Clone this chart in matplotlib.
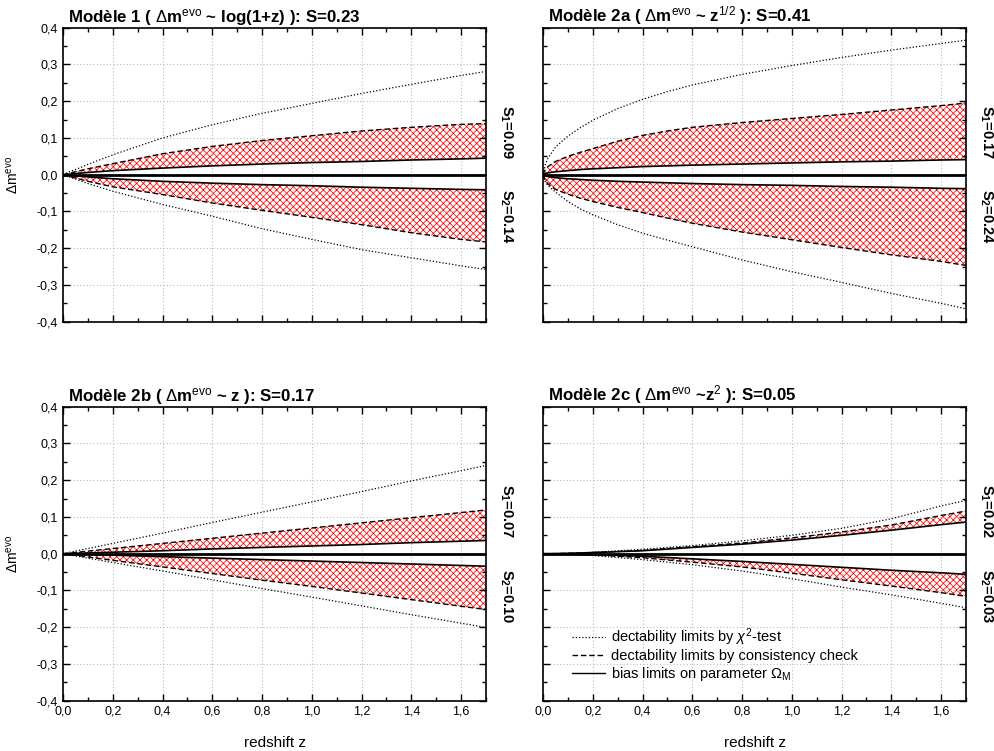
import matplotlib
matplotlib.use('Agg')
import matplotlib.pyplot as plt
import matplotlib.transforms as mtransforms
from matplotlib.ticker import MultipleLocator, FuncFormatter

plt.rcParams['font.family'] = 'Liberation Sans'
plt.rcParams['mathtext.fontset'] = 'custom'
plt.rcParams['mathtext.rm'] = 'Liberation Sans'
plt.rcParams['mathtext.it'] = 'Liberation Sans:italic'
plt.rcParams['mathtext.bf'] = 'Liberation Sans:bold'
plt.rcParams['hatch.linewidth'] = 0.55

# redshift grid where curves were read
z = [0, 0.02, 0.05, 0.1, 0.2, 0.4, 0.6, 0.8, 1.0, 1.2, 1.4, 1.6, 1.7]
# finer grid for the steep sqrt model
z_2a = [0, 0.01, 0.02, 0.05, 0.1, 0.15, 0.2, 0.3, 0.4, 0.5, 0.6, 0.8, 1.0, 1.2, 1.4, 1.6, 1.7]

# Modele 1 : log(1+z)
m1_dot_up = [0, 0.006, 0.014, 0.028, 0.054, 0.100, 0.136, 0.167, 0.194, 0.221, 0.246, 0.270, 0.281]
m1_dash_up = [0, 0.003, 0.008, 0.016, 0.030, 0.057, 0.077, 0.093, 0.106, 0.119, 0.129, 0.137, 0.139]
m1_sol_up = [0, 0.001, 0.003, 0.006, 0.011, 0.018, 0.024, 0.029, 0.033, 0.036, 0.040, 0.043, 0.045]
m1_sol_lo = [0, -0.001, -0.003, -0.006, -0.011, -0.018, -0.023, -0.027, -0.030, -0.034, -0.037, -0.040, -0.041]
m1_dash_lo = [0, -0.004, -0.009, -0.018, -0.033, -0.054, -0.077, -0.097, -0.116, -0.136, -0.158, -0.176, -0.183]
m1_dot_lo = [0, -0.005, -0.012, -0.024, -0.045, -0.081, -0.113, -0.147, -0.176, -0.204, -0.226, -0.248, -0.258]

# Modele 2a : z^1/2
m2a_dot_up = [0, 0.030, 0.045, 0.075, 0.105, 0.128, 0.148, 0.180, 0.205, 0.226, 0.244, 0.273, 0.297, 0.319, 0.339, 0.357, 0.366]
m2a_dash_up = [0, 0.015, 0.022, 0.036, 0.050, 0.061, 0.071, 0.091, 0.107, 0.119, 0.129, 0.142, 0.153, 0.164, 0.176, 0.188, 0.195]
m2a_sol_up = [0, 0.003, 0.005, 0.008, 0.011, 0.014, 0.016, 0.019, 0.022, 0.024, 0.026, 0.029, 0.032, 0.035, 0.037, 0.040, 0.041]
m2a_sol_lo = [0, -0.003, -0.005, -0.008, -0.011, -0.013, -0.015, -0.018, -0.020, -0.022, -0.024, -0.027, -0.029, -0.032, -0.034, -0.037, -0.038]
m2a_dash_lo = [0, -0.017, -0.025, -0.040, -0.053, -0.064, -0.073, -0.089, -0.103, -0.118, -0.132, -0.156, -0.177, -0.198, -0.218, -0.236, -0.247]
m2a_dot_lo = [0, -0.020, -0.030, -0.047, -0.073, -0.093, -0.109, -0.136, -0.159, -0.178, -0.196, -0.232, -0.264, -0.293, -0.323, -0.350, -0.365]

# Modele 2b : z
m2b_dot_up = [0, 0.003, 0.007, 0.014, 0.028, 0.056, 0.085, 0.113, 0.141, 0.169, 0.198, 0.226, 0.240]
m2b_dash_up = [0, 0.001, 0.0035, 0.007, 0.014, 0.028, 0.042, 0.056, 0.070, 0.084, 0.098, 0.112, 0.119]
m2b_sol_up = [0, 0.0004, 0.001, 0.002, 0.004, 0.008, 0.013, 0.017, 0.021, 0.025, 0.030, 0.034, 0.036]
m2b_sol_lo = [0, -0.0004, -0.001, -0.002, -0.004, -0.008, -0.012, -0.016, -0.020, -0.024, -0.028, -0.032, -0.034]
m2b_dash_lo = [0, -0.002, -0.004, -0.009, -0.018, -0.036, -0.054, -0.072, -0.089, -0.107, -0.125, -0.143, -0.152]
m2b_dot_lo = [0, -0.002, -0.006, -0.012, -0.024, -0.047, -0.071, -0.095, -0.118, -0.142, -0.166, -0.189, -0.201]

# Modele 2c : z^2
m2c_dot_up = [0, 0, 0.0005, 0.001, 0.004, 0.012, 0.022, 0.035, 0.050, 0.069, 0.095, 0.130, 0.145]
m2c_dash_up = [0, 0, 0.0003, 0.001, 0.003, 0.009, 0.019, 0.029, 0.043, 0.059, 0.078, 0.104, 0.116]
m2c_sol_up = [0, 0, 0.0003, 0.001, 0.003, 0.008, 0.017, 0.026, 0.037, 0.050, 0.064, 0.079, 0.086]
m2c_sol_lo = [0, 0, -0.0003, -0.001, -0.002, -0.007, -0.014, -0.021, -0.029, -0.037, -0.045, -0.052, -0.056]
m2c_dash_lo = [0, 0, -0.0004, -0.001, -0.003, -0.011, -0.023, -0.036, -0.053, -0.071, -0.088, -0.106, -0.116]
m2c_dot_lo = [0, 0, -0.0005, -0.002, -0.005, -0.016, -0.030, -0.047, -0.068, -0.091, -0.112, -0.135, -0.147]

titles = [r'Modèle 1 ( $\Delta$m$^{\mathrm{evo}}$ ~ log(1+z) ): S=0.23',
          r'Modèle 2a ( $\Delta$m$^{\mathrm{evo}}$ ~ z$^{\mathrm{1/2}}$ ): S=0.41',
          r'Modèle 2b ( $\Delta$m$^{\mathrm{evo}}$ ~ z ): S=0.17',
          r'Modèle 2c ( $\Delta$m$^{\mathrm{evo}}$ ~z$^{\mathrm{2}}$ ): S=0.05']
s1_labels = ['0.09', '0.17', '0.07', '0.02']
s2_labels = ['0.14', '0.24', '0.10', '0.03']

panels = [
    (z, m1_dot_up, m1_dash_up, m1_sol_up, m1_sol_lo, m1_dash_lo, m1_dot_lo),
    (z_2a, m2a_dot_up, m2a_dash_up, m2a_sol_up, m2a_sol_lo, m2a_dash_lo, m2a_dot_lo),
    (z, m2b_dot_up, m2b_dash_up, m2b_sol_up, m2b_sol_lo, m2b_dash_lo, m2b_dot_lo),
    (z, m2c_dot_up, m2c_dash_up, m2c_sol_up, m2c_sol_lo, m2c_dash_lo, m2c_dot_lo),
]

fig = plt.figure(figsize=(9.94, 7.51), dpi=100)
W, H = 994, 751
boxes = [(63, 27.7), (543, 27.7), (63, 406.7), (543, 406.7)]
aw, ah = 423, 294

comma = FuncFormatter(lambda v, p: ('%.1f' % v).replace('.', ','))

dotted = (0, (1, 1.6))
dashed = (0, (4, 2))

for i, (x0, y0) in enumerate(boxes):
    ax = fig.add_axes([x0 / W, 1 - (y0 + ah) / H, aw / W, ah / H])
    zz, dot_up, dash_up, sol_up, sol_lo, dash_lo, dot_lo = panels[i]

    # hatched bands between bias limits and consistency limits
    ax.fill_between(zz, sol_up, dash_up, facecolor='none', edgecolor='red', hatch='xxxxx', linewidth=0)
    ax.fill_between(zz, sol_lo, dash_lo, facecolor='none', edgecolor='red', hatch='xxxxx', linewidth=0)

    ax.plot(zz, dot_up, color='black', linestyle=dotted, linewidth=0.9)
    ax.plot(zz, dot_lo, color='black', linestyle=dotted, linewidth=0.9)
    ax.plot(zz, dash_up, color='black', linestyle=dashed, linewidth=1.0)
    ax.plot(zz, dash_lo, color='black', linestyle=dashed, linewidth=1.0)
    ax.plot(zz, sol_up, color='black', linewidth=1.2)
    ax.plot(zz, sol_lo, color='black', linewidth=1.2)
    ax.axhline(0, color='black', linewidth=2)

    ax.set_xlim(0, 1.7)
    ax.set_ylim(-0.4, 0.4)
    ax.xaxis.set_major_locator(MultipleLocator(0.2))
    ax.xaxis.set_minor_locator(MultipleLocator(0.1))
    ax.yaxis.set_major_locator(MultipleLocator(0.1))
    ax.yaxis.set_minor_locator(MultipleLocator(0.05))
    ax.xaxis.set_major_formatter(comma)
    ax.yaxis.set_major_formatter(comma)
    ax.tick_params(which='both', direction='in', top=True, right=True, labelsize=9, width=1)
    ax.tick_params(which='major', length=5)
    ax.tick_params(which='minor', length=3)
    ax.grid(True, which='major', color='#bbbbbb', linestyle=(0, (1, 2)), linewidth=0.8)
    for sp in ax.spines.values():
        sp.set_linewidth(1.2)

    if i % 2 == 1:
        ax.tick_params(labelleft=False)
    else:
        ax.set_ylabel(r'$\Delta$m$^{\mathrm{evo}}$', fontsize=10)
        ax.yaxis.set_label_coords(-0.1, 0.5)
    if i < 2:
        ax.tick_params(labelbottom=False)
    else:
        ax.set_xlabel('redshift z', fontsize=11)
        ax.xaxis.set_label_coords(0.5, -0.12)

    ax.text(0.012, 1.02, titles[i], transform=ax.transAxes, fontsize=12.2,
            fontweight='bold', ha='left', va='baseline')

    trans = mtransforms.blended_transform_factory(ax.transAxes, ax.transData)
    ax.text(1.047, 0.115, r'S$_\mathbf{1}$=' + s1_labels[i], transform=trans, rotation=-90,
            fontsize=10.5, fontweight='bold', ha='center', va='center')
    ax.text(1.047, -0.115, r'S$_\mathbf{2}$=' + s2_labels[i], transform=trans, rotation=-90,
            fontsize=10.5, fontweight='bold', ha='center', va='center')

    if i == 3:
        h1, = ax.plot([], [], color='black', linestyle=dotted, linewidth=0.9)
        h2, = ax.plot([], [], color='black', linestyle=dashed, linewidth=1.0)
        h3, = ax.plot([], [], color='black', linewidth=1.0)
        ax.legend([h1, h2, h3],
                  [r'dectability limits by $\chi^2$-test',
                   'dectability limits by consistency check',
                   r'bias limits on parameter $\Omega_{\mathrm{M}}$'],
                  loc='lower left', bbox_to_anchor=(0.055, 0.041), frameon=False,
                  fontsize=10.5, handlelength=2.25, handletextpad=0.4, labelspacing=0.1,
                  borderaxespad=0)

fig.savefig('out.png', dpi=100)
